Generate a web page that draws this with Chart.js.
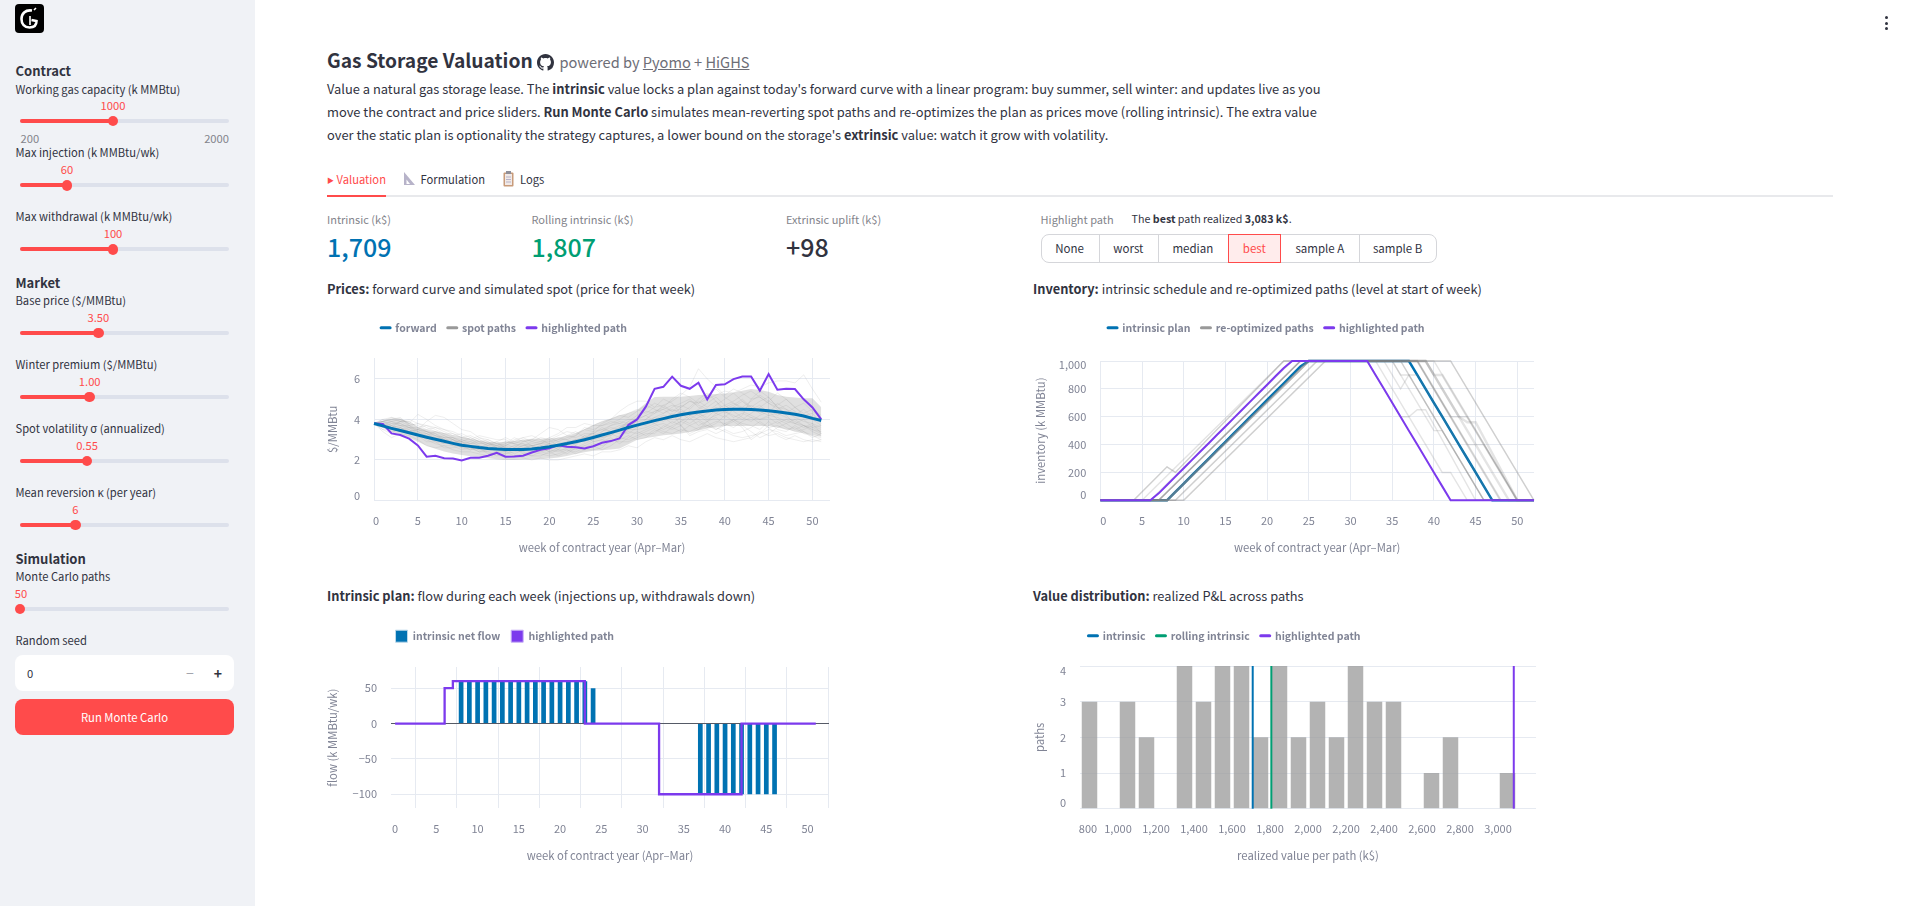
<!DOCTYPE html>
<html><head><meta charset="utf-8">
<script src="https://cdn.jsdelivr.net/npm/chart.js@4/dist/chart.umd.js"></script>
<style>
html,body{margin:0;padding:0;background:#fff;width:1911px;height:906px;overflow:hidden;font-family:"Noto Sans CJK SC","Noto Sans",sans-serif;color:#31333f;}
#side{position:absolute;left:0;top:0;width:255px;height:906px;background:#f0f2f6;}
.t{position:absolute;white-space:nowrap;line-height:20px;font-size:11.2px;}
.c{transform:translateX(-50%);}
.r{transform:translateX(-100%);}
.h{font-size:13px;font-weight:700;color:#31333f;}
.m{color:#83848b;}
.v{color:#ff4b4b;}
b{font-weight:700;}
canvas{position:absolute;}
.abs{position:absolute;}
</style></head><body>
<div id="side"></div>
<div id="main"></div>
<script>
// ---------- chart data ----------
const weeks = [0,1,2,3,4,5,6,7,8,9,10,11,12,13,14,15,16,17,18,19,20,21,22,23,24,25,26,27,28,29,30,31,32,33,34,35,36,37,38,39,40,41,42,43,44,45,46,47,48,49,50,51];
const weeksInv = weeks.concat([52]);
const forwardCurve = [3.80,3.68,3.56,3.45,3.34,3.23,3.12,3.02,2.92,2.82,2.73,2.67,2.61,2.57,2.54,2.52,2.52,2.52,2.54,2.59,2.65,2.73,2.81,2.90,3.00,3.11,3.23,3.35,3.47,3.60,3.72,3.83,3.94,4.04,4.14,4.23,4.30,4.37,4.42,4.46,4.49,4.50,4.50,4.49,4.46,4.43,4.38,4.32,4.25,4.17,4.05,3.95];
const spotHighlight = [3.80,3.77,3.31,3.23,3.05,2.72,2.16,2.21,2.09,2.07,1.98,2.11,2.11,2.21,2.35,2.16,2.17,2.21,2.37,2.50,2.58,2.73,2.65,2.63,2.57,2.68,2.85,2.93,3.06,3.72,4.00,4.63,5.51,5.61,6.11,5.66,5.51,5.81,4.99,5.70,5.73,5.99,6.12,6.12,5.42,6.24,5.47,5.51,5.50,4.99,4.59,4.00];
const bandUpper = [3.80,3.95,4.05,4.05,3.85,3.60,3.50,3.42,3.32,3.22,3.15,3.05,2.95,2.90,2.86,2.88,2.95,3.00,3.05,3.05,3.06,3.10,3.20,3.32,3.50,3.72,3.90,4.05,4.20,4.32,4.46,4.80,5.10,5.12,5.12,5.12,5.15,5.20,5.22,5.25,5.28,5.32,5.42,5.50,5.45,5.37,5.20,5.12,5.08,5.05,5.04,4.60];
const bandLower = [3.80,3.62,3.38,3.25,3.10,2.90,2.70,2.55,2.42,2.32,2.24,2.18,2.12,2.08,2.03,2.00,2.00,2.02,2.03,2.05,2.07,2.12,2.20,2.30,2.38,2.45,2.48,2.52,2.57,2.78,3.00,3.08,3.15,3.22,3.26,3.30,3.38,3.45,3.55,3.62,3.67,3.68,3.68,3.68,3.68,3.67,3.60,3.52,3.42,3.32,3.23,3.15];
const spot01 = [3.8,3.7,3.9,3.8,3.6,3.4,3.3,3.2,3.0,2.9,2.9,2.7,2.7,2.6,2.7,2.5,2.7,2.8,2.7,2.8,2.8,2.7,2.9,3.0,3.1,3.2,3.4,3.7,3.9,3.8,4.1,4.4,4.3,4.7,4.9,5.2,5.6,6.5,6.0,5.6,5.2,5.5,5.3,5.0,5.1,4.8,4.6,4.5,4.3,4.2,4.1,3.9];
const spot02 = [3.8,3.9,4.0,3.9,3.9,3.6,3.4,3.3,3.1,3.1,3.0,2.8,2.9,2.7,2.8,2.9,2.8,2.7,2.8,2.9,2.9,3.0,3.2,3.1,3.3,3.3,3.5,3.7,3.8,4.0,4.0,4.2,4.4,4.5,4.7,4.6,4.9,4.8,5.0,5.2,5.4,5.3,5.5,5.7,5.6,5.8,5.9,5.9,5.8,6.2,5.5,4.85];
const spot03 = [3.8,4.0,3.9,4.0,3.8,4.25,4.0,3.7,3.5,3.3,3.1,3.0,2.8,2.8,2.7,2.9,2.8,2.6,2.7,2.6,2.8,3.0,3.0,3.2,3.5,3.7,3.9,4.0,4.4,4.7,4.9,4.9,4.6,4.7,4.4,4.5,4.2,4.3,4.0,4.2,4.4,4.1,4.3,4.1,4.0,4.2,4.1,3.9,3.8,3.7,3.6,3.4];
const spot04 = [3.8,3.6,3.8,3.7,3.6,3.5,3.9,4.2,4.1,3.8,3.5,3.4,3.1,2.9,2.7,2.6,2.5,2.6,2.7,2.8,3.1,3.3,3.6,3.6,3.8,3.7,3.7,3.9,3.8,3.7,3.9,4.0,4.3,4.5,4.2,4.6,4.9,4.7,4.5,4.3,4.6,4.8,4.5,4.7,4.4,4.2,4.3,4.1,3.9,3.7,3.5,3.3];
const spot05 = [3.8,3.4,3.1,3.3,3.2,3.0,2.7,2.6,2.7,2.5,2.4,2.4,2.3,2.2,2.3,2.1,2.2,2.1,2.0,2.1,2.0,2.0,2.1,2.2,2.3,2.2,2.4,2.4,2.5,2.7,2.6,2.9,3.1,3.0,3.2,3.0,2.9,3.1,3.3,3.1,3.0,2.9,3.0,3.1,3.4,3.2,3.3,3.1,3.0,2.9,3.0,2.9];
const spot06 = [3.8,3.7,3.5,3.4,3.5,3.3,3.0,2.8,2.7,2.7,2.5,2.6,2.4,2.4,2.2,2.3,2.4,2.5,2.4,2.3,2.2,2.3,2.5,2.4,2.6,2.8,2.7,2.9,3.1,3.0,3.2,3.4,3.6,3.4,3.3,3.5,3.4,3.6,3.7,3.6,3.4,3.2,3.1,3.2,3.3,3.5,3.4,3.2,3.3,3.4,3.2,3.1];
const spot07 = [3.8,3.9,3.7,3.6,3.4,3.5,3.3,3.1,3.2,3.0,2.8,2.9,2.7,2.5,2.6,2.7,3.0,3.1,3.2,3.0,2.8,2.6,2.7,2.9,3.2,3.3,3.6,3.4,3.3,3.5,3.8,3.7,4.0,4.2,4.1,4.4,4.2,4.5,4.8,5.1,4.7,4.9,5.2,5.4,5.1,4.8,4.5,4.7,4.4,4.1,4.0,3.7];
const spot08 = [3.8,3.8,3.6,3.7,3.5,3.2,3.3,3.0,2.8,3.0,2.9,2.6,2.5,2.4,2.6,2.5,2.3,2.5,2.6,2.5,2.7,2.9,2.8,3.0,2.9,3.1,3.3,3.2,3.6,3.8,3.6,3.9,4.1,3.9,4.2,4.0,3.8,4.1,4.3,4.6,4.4,4.2,4.0,4.3,4.6,4.9,4.7,5.0,4.6,4.3,4.5,4.2];
const spot09 = [3.8,3.9,4.1,4.0,3.8,3.7,3.5,3.6,3.4,3.2,3.3,3.1,2.9,3.0,2.8,2.7,2.9,3.1,2.9,2.8,3.0,3.2,3.4,3.3,3.5,3.4,3.8,4.0,4.2,4.1,4.4,4.7,4.5,4.3,4.6,4.8,5.0,4.6,4.4,4.7,5.0,5.3,4.9,4.6,4.3,4.5,4.2,4.4,4.1,3.9,3.8,3.6];
const spot10 = [3.8,3.5,3.6,3.4,3.3,3.4,3.1,2.9,2.8,2.9,2.6,2.5,2.7,2.6,2.4,2.3,2.5,2.4,2.2,2.4,2.5,2.4,2.6,2.5,2.7,2.9,3.0,2.9,3.2,3.4,3.3,3.5,3.7,3.8,3.6,3.9,3.7,3.5,3.7,3.9,3.8,3.6,3.9,4.1,3.8,3.6,3.7,3.5,3.6,3.3,3.2,3.0];
const spot11 = [3.8,4.0,4.1,3.9,4.0,3.8,3.6,3.4,3.3,3.1,2.9,2.8,3.0,2.8,2.6,2.8,2.6,2.9,3.0,3.3,3.6,3.5,3.2,3.4,3.1,3.3,3.2,3.5,3.7,3.6,3.9,3.8,4.1,4.3,4.5,4.3,4.0,4.3,4.1,4.5,4.7,4.4,4.1,3.9,4.2,4.4,4.0,3.8,4.0,3.7,3.5,3.4];
const spot12 = [3.8,3.6,3.4,3.5,3.4,3.1,3.2,3.1,2.9,2.7,2.8,2.6,2.4,2.5,2.5,2.7,2.5,2.4,2.6,2.7,2.6,2.8,2.7,2.6,2.8,3.0,3.1,3.3,3.4,3.3,3.6,3.9,3.8,3.5,3.7,3.9,4.2,4.0,3.7,3.5,3.8,4.0,3.7,3.4,3.1,3.3,3.6,3.8,3.5,3.7,3.4,3.2];
const spot13 = [3.8,3.8,3.9,3.7,3.7,3.5,3.4,3.2,3.1,3.1,2.9,3.1,2.9,2.7,2.9,3.1,2.9,2.8,2.5,2.6,2.4,2.6,2.8,3.0,2.9,3.2,3.1,3.2,3.5,3.9,4.2,4.5,4.8,4.6,5.0,5.3,5.1,4.8,5.2,5.5,5.1,4.8,4.6,4.9,5.2,4.9,5.3,5.0,4.6,4.8,4.4,4.1];
const spot14 = [3.8,3.7,3.6,3.9,3.7,3.4,3.2,3.4,3.2,3.0,2.7,2.8,2.8,2.9,2.6,2.4,2.6,2.7,2.7,2.4,2.3,2.5,2.3,2.6,2.7,2.6,2.9,3.1,2.8,3.1,3.4,3.2,3.5,3.3,3.6,3.4,3.7,3.9,3.6,3.8,4.2,3.9,3.6,3.0,3.3,3.7,3.9,3.6,3.4,3.5,3.7,3.5];
const spot15 = [3.8,3.9,3.8,3.8,3.6,3.6,3.4,3.3,3.0,2.8,3.0,2.9,3.1,3.0,2.8,2.6,2.5,2.7,2.9,3.1,3.0,2.7,2.6,2.8,3.0,3.4,3.5,3.4,3.6,3.9,3.7,4.0,4.4,4.6,4.4,4.7,4.5,4.9,4.6,4.9,4.5,4.7,5.0,4.6,4.9,5.1,4.6,4.3,4.6,4.2,4.3,3.8];
const spot16 = [3.8,3.6,3.7,3.5,3.6,3.3,3.1,3.0,3.1,2.8,2.6,2.7,2.5,2.7,2.5,2.4,2.2,2.3,2.2,2.2,2.4,2.2,2.4,2.7,2.5,2.5,2.6,3.0,2.9,2.9,3.1,3.3,3.3,3.7,3.5,3.7,3.3,3.5,3.9,3.5,3.7,4.0,3.8,3.7,3.5,3.9,3.5,3.4,3.7,3.4,3.1,3.3];
const spot17 = [3.8,3.9,4.0,4.1,3.7,3.8,3.7,3.5,3.3,3.3,3.1,3.2,3.0,2.8,2.7,2.8,3.1,2.9,3.0,2.9,3.1,2.9,3.1,3.2,3.6,3.5,3.7,3.8,4.0,4.3,4.5,4.3,4.6,5.0,4.8,4.3,4.6,5.0,5.3,4.9,4.3,4.6,4.9,4.5,4.7,4.3,4.8,4.5,4.2,4.5,4.1,4.0];
const spot18 = [3.8,3.5,3.3,3.6,3.3,3.2,2.9,2.9,2.6,2.6,2.7,2.5,2.6,2.3,2.4,2.4,2.6,2.3,2.4,2.6,2.4,2.5,2.5,2.3,2.5,2.7,2.5,2.7,3.0,3.2,3.0,3.1,3.4,3.6,3.9,3.7,3.2,3.4,3.5,3.3,3.5,3.3,3.4,3.6,3.9,3.6,3.2,3.0,3.2,3.0,2.9,3.0];
const spot19 = [3.8,3.8,3.7,3.9,3.9,3.6,3.7,3.6,3.5,3.4,3.2,3.0,3.2,3.1,3.0,3.0,2.8,3.0,2.7,2.8,2.9,3.1,3.0,2.8,3.1,3.0,3.4,3.6,3.5,3.8,4.0,4.2,3.9,4.1,3.8,4.1,4.4,4.2,3.9,4.1,3.7,3.9,4.2,5.0,5.4,5.1,4.6,4.2,3.8,4.0,3.6,3.7];
const spot20 = [3.8,3.7,3.5,3.6,3.4,3.5,3.4,3.2,3.0,3.0,2.8,2.7,2.6,2.8,2.9,2.6,2.7,2.5,2.5,2.7,2.8,2.5,2.9,2.7,3.2,2.9,3.0,3.3,3.1,3.5,3.5,3.6,3.8,4.0,4.3,3.7,4.1,3.7,3.9,4.3,4.1,4.5,4.4,4.2,4.0,4.1,3.8,4.0,3.8,3.6,3.8,3.3];
const spotPaths = [spot01,spot02,spot03,spot04,spot05,spot06,spot07,spot08,spot09,spot10,spot11,spot12,spot13,spot14,spot15,spot16,spot17,spot18,spot19,spot20];

const invIntrinsic = [0,0,0,0,0,0,0,0,0,60,120,180,240,300,360,420,480,540,600,660,720,780,840,900,960,1000,1000,1000,1000,1000,1000,1000,1000,1000,1000,1000,1000,1000,900,800,700,600,500,400,300,200,100,0,0,0,0,0,0];
const invHighlight = [0,0,0,0,0,0,0,50,110,170,230,290,350,410,470,530,590,650,710,770,830,890,950,1000,1000,1000,1000,1000,1000,1000,1000,1000,1000,900,800,700,600,500,400,300,200,100,0,0,0,0,0,0,0,0,0,0,0];
// re-optimized inventory paths, as [week, level] vertices
const invPaths = [
 [[0,0],[4,0],[8,240],[9,200],[22,1000],[42,1000],[52,0]],
 [[0,0],[4,0],[8,240],[9,200],[22,1000],[42,1000],[52,0]],
 [[0,0],[5,0],[22,1000],[38,1000],[48,0],[52,0]],
 [[0,0],[7,0],[24,1000],[36,1000],[46,0],[52,0]],
 [[0,0],[7,0],[24,1000],[36,1000],[46,0],[52,0]],
 [[0,0],[7,0],[24,1000],[40,1000],[50,0],[52,0]],
 [[0,0],[8,0],[25,1000],[38,1000],[48,0],[52,0]],
 [[0,0],[8,0],[25,1000],[39,1000],[49,0],[52,0]],
 [[0,0],[9,0],[26,1000],[38,1000],[42,600],[44,600],[50,0],[52,0]],
 [[0,0],[10,0],[27,1000],[35,1000],[36,900],[37,900],[38,800],[46,0],[52,0]],
 [[0,0],[10,0],[27,1000],[34,1000],[36,800],[37,900],[38,900],[47,0],[52,0]],
 [[0,0],[7,0],[24,1000],[32,1000],[36,600],[37,600],[38,650],[39,650],[45,0],[52,0]],
 [[0,0],[6,0],[23,1000],[33,1000],[41,200],[42,200],[44,0],[52,0]],
 [[0,0],[8,0],[25,1000],[39,1000],[43,600],[44,560],[45,560],[50,0],[52,0]],
 [[0,0],[9,0],[26,1000],[38,1000],[44,400],[46,400],[50,0],[52,0]],
 [[0,0],[7,0],[24,1000],[35,1000],[40,500],[41,500],[46,0],[52,0]],
 [[0,0],[8,0],[25,1000],[39,1000],[40,900],[41,900],[42,800],[50,0],[52,0]]
];
const flowIntrinsic = [0,0,0,0,0,0,0,0,60,60,60,60,60,60,60,60,60,60,60,60,60,60,60,60,50,0,0,0,0,0,0,0,0,0,0,0,0,-100,-100,-100,-100,-100,-100,-100,-100,-100,-100,0,0,0,0,0];
const flowHighlight = [0,0,0,0,0,0,50,60,60,60,60,60,60,60,60,60,60,60,60,60,60,60,60,0,0,0,0,0,0,0,0,0,-100,-100,-100,-100,-100,-100,-100,-100,-100,-100,0,0,0,0,0,0,0,0,0,0];
const binCenters = [850,950,1050,1150,1250,1350,1450,1550,1650,1750,1850,1950,2050,2150,2250,2350,2450,2550,2650,2750,2850,2950,3050];
const binCounts  = [3,0,3,2,0,4,3,4,4,2,4,2,3,2,4,3,3,0,1,2,0,0,1];
const valIntrinsic = 1709, valRolling = 1807, valHighlight = 3083;
const weekTicks = [0,5,10,15,20,25,30,35,40,45,50];
const valueTicks = [800,1000,1200,1400,1600,1800,2000,2200,2400,2600,2800,3000];

// ---------- page furniture ----------
const BLUE='#0072b2',GREEN='#009e73',PURPLE='#7c3aed',GRAY='#999999',AX='#808495',GRID='#e6eaf1';
const side=document.getElementById('side'), main=document.getElementById('main');
function T(p,x,cy,html,cls,st){const d=document.createElement('div');d.className='t '+(cls||'');d.style.left=x+'px';d.style.top=(cy-10)+'px';d.innerHTML=html;if(st)d.style.cssText+=';'+st;p.appendChild(d);return d;}
function B(p,x,y,w,h,st){const d=document.createElement('div');d.className='abs';d.style.cssText=`left:${x}px;top:${y}px;width:${w}px;height:${h}px;`+(st||'');p.appendChild(d);return d;}

side.insertAdjacentHTML('beforeend','<svg class="abs" style="left:15px;top:4px" width="29" height="29" viewBox="0 0 29 29"><rect width="29" height="29" rx="4" fill="#000"/><path d="M17 6.5C10 5.5 6.5 10 6.5 15s3 8.5 8 8.5c5 0 7-3 7-6.5l-5-1" fill="none" stroke="#fff" stroke-width="2.6"/><path d="M19 6l2-2M15 12v9" fill="none" stroke="#fff" stroke-width="1.6"/></svg>');
const heads=[['Contract',70.5],['Market',282.5],['Simulation',559]];
heads.forEach(h=>T(side,15.5,h[1],h[0],'h'));
const sliders=[
 ['Working gas capacity (k MMBtu)',88.5,'1000',113,105,121],
 ['Max injection (k MMBtu/wk)',152,'60',67,169,185.3],
 ['Max withdrawal (k MMBtu/wk)',216,'100',113,233,249.3],
 ['Base price ($/MMBtu)',300,'3.50',98.3,317,333],
 ['Winter premium ($/MMBtu)',364,'1.00',89.7,381,397],
 ['Spot volatility σ (annualized)',428,'0.55',87,445,461],
 ['Mean reversion κ (per year)',492,'6',75.3,509,525],
 ['Monte Carlo paths',576,'50',20,593,609]];
sliders.forEach(s=>{
 T(side,15.5,s[1],s[0]);
 T(side,s[3]+(s[2]==='50'?1:0),s[4],s[2],'v c');
 B(side,20,s[5]-2,209,4,'background:#dde1eb;border-radius:2px');
 B(side,20,s[5]-2,s[3]-20,4,'background:#ff4b4b;border-radius:2px');
 B(side,s[3]-5.3,s[5]-5.3,10.6,10.6,'background:#ff4b4b;border-radius:50%');
});
T(side,20.5,138,'200','m');
T(side,229,138,'2000','m r');
T(side,15.5,640,'Random seed');
B(side,15,655,219,36,'background:#fff;border-radius:8px');
T(side,27,672.5,'0');
T(side,190,672.5,'−','c','color:#a3a5ad;font-size:14px');
T(side,218,672.5,'+','c','font-weight:700;font-size:14px');
B(side,15,699,219,36,'background:#ff4b4b;border-radius:8px');
T(side,124.5,716.5,'Run Monte Carlo','c','color:#fff;font-size:11.3px');

T(main,327,60,'Gas Storage Valuation','', 'font-size:19.2px;font-weight:700;line-height:30px;top:45px');
main.insertAdjacentHTML('beforeend','<svg class="abs" style="left:536.5px;top:53.5px" width="17" height="17" viewBox="0 0 16 16"><path fill="#31333f" d="M8 0C3.58 0 0 3.58 0 8c0 3.54 2.29 6.53 5.47 7.59.4.07.55-.17.55-.38 0-.19-.01-.82-.01-1.49-2.01.37-2.53-.49-2.69-.94-.09-.23-.48-.94-.82-1.13-.28-.15-.68-.52-.01-.53.63-.01 1.08.58 1.23.82.72 1.21 1.87.87 2.33.66.07-.52.28-.87.51-1.07-1.78-.2-3.64-.89-3.64-3.95 0-.87.31-1.59.82-2.15-.08-.2-.36-1.02.08-2.12 0 0 .67-.21 2.2.82.64-.18 1.32-.27 2-.27.68 0 1.36.09 2 .27 1.53-1.04 2.2-.82 2.2-.82.44 1.1.16 1.92.08 2.12.51.56.82 1.27.82 2.15 0 3.07-1.87 3.75-3.65 3.95.29.25.54.73.54 1.48 0 1.07-.01 1.93-.01 2.2 0 .21.15.46.55.38A8.013 8.013 0 0016 8c0-4.42-3.58-8-8-8z"/></svg>');
T(main,559.5,62,'powered by <u>Pyomo</u> + <u>HiGHS</u>','', 'font-size:14.6px;color:#6d6e77');
[['Value a natural gas storage lease. The <b>intrinsic</b> value locks a plan against today\'s forward curve with a linear program: buy summer, sell winter: and updates live as you',88.5],
 ['move the contract and price sliders. <b>Run Monte Carlo</b> simulates mean-reverting spot paths and re-optimizes the plan as prices move (rolling intrinsic). The extra value',111.5],
 ['over the static plan is optionality the strategy captures, a lower bound on the storage\'s <b>extrinsic</b> value: watch it grow with volatility.',134.5]
].forEach(l=>T(main,327,l[1],l[0],'','font-size:12.88px'));

T(main,327,178.5,'<span style="font-size:7px;vertical-align:1px">▶</span> Valuation','v','font-size:11.2px');
main.insertAdjacentHTML('beforeend','<svg class="abs" style="left:403px;top:172px" width="13" height="14" viewBox="0 0 13 14"><path d="M1 0L12 13H1z" fill="#b7b3c9"/><path d="M3.5 7.5L7 12H3.5z" fill="#fff"/></svg><svg class="abs" style="left:503px;top:171px" width="11" height="16" viewBox="0 0 11 16"><rect x="0.5" y="1.5" width="10" height="14" rx="1" fill="#c89b7a"/><rect x="2" y="3" width="7" height="11" fill="#f1e9e6"/><rect x="3" y="0" width="5" height="3" fill="#8f8f99"/><path d="M3 6h5M3 8.5h5M3 11h5" stroke="#b7b3c9"/></svg>');
T(main,420.5,178.5,'Formulation','','font-size:11.2px');
T(main,520,178.5,'Logs','','font-size:11.2px');
B(main,327,195,1506,2,'background:#e8e9ec');
B(main,327,195,59,2,'background:#ff4b4b');

[['Intrinsic (k$)',327,'1,709',BLUE],['Rolling intrinsic (k$)',531.5,'1,807',GREEN],['Extrinsic uplift (k$)',786,'+98','#31333f']].forEach(m=>{
 T(main,m[1],219,m[0],'m','font-size:11px');
 T(main,m[1],245.5,m[2],'','font-weight:500;font-size:25px;color:'+m[3]);
});
T(main,1040.6,219,'Highlight path','m','font-size:11px');
T(main,1131.6,219,'The <b>best</b> path realized <b>3,083 k$</b>.','','font-size:10.7px');
B(main,1040.6,234,396,28.7,'box-sizing:border-box;border:1px solid #d5d6da;border-radius:8px');
[['None',1040.6,1098.7],['worst',1098.7,1158],['median',1158,1227.6],['best',1227.6,1280.9],['sample A',1280.9,1358.7],['sample B',1358.7,1436.6]].forEach((s,i)=>{
 if(i===3)B(main,s[1],234,s[2]-s[1],28.7,'box-sizing:border-box;border:1px solid #ff4b4b;background:#ffecec');
 else if(i>0&&i!==4)B(main,s[1],234,1,28.7,'background:#d5d6da');
 T(main,(s[1]+s[2])/2,248,s[0],'c','font-size:11.5px;'+(i===3?'color:#ff4b4b':''));
});
T(main,327,289,'<b>Prices:</b> forward curve and simulated spot (price for that week)','','font-size:12.8px');
T(main,1033,289,'<b>Inventory:</b> intrinsic schedule and re-optimized paths (level at start of week)','','font-size:12.8px');
T(main,327,596,'<b>Intrinsic plan:</b> flow during each week (injections up, withdrawals down)','','font-size:12.8px');
T(main,1033,596,'<b>Value distribution:</b> realized P&amp;L across paths','','font-size:12.8px');
[17.5,23,28.5].forEach(y=>B(main,1884.5,y-1.5,3,3,'background:#31333f;border-radius:50%'));

// ---------- charts ----------
const FONT='"Noto Sans CJK SC"';
Chart.defaults.font.family=FONT;
Chart.defaults.animation=false;
Chart.defaults.responsive=false;
const placePlugin={id:'place',
 beforeLayout(ch){const l=ch.legend;if(l&&!l._wrapped){const f=l.fit.bind(l);l.fit=function(){f();this.height=0;};l._wrapped=true;}},
 afterLayout(ch){const o=ch.options.plugins.place,l=ch.legend,pad=l.options.labels.padding;
  l.left=o.cx-300;l.right=o.cx+300;l.top=o.cy-pad-5.5;l.bottom=l.top+40;},
 beforeDraw(ch){const o=ch.options.plugins.place;['x','y'].forEach(a=>{const s=ch.scales[a],n=o[a]||{};s.getLabelItems().forEach(it=>{const k=n[it.label];if(k&&!it._n){it.options.translation=[it.options.translation[0]+k[0],it.options.translation[1]+k[1]];it._n=1;}});});}
};
function build(rect,cfg){
 const Top=50,R=10,TH=7;
 const L=rect.l-rect.ytitleX+TH, H=rect.titleY-rect.b+TH;
 const c=document.createElement('canvas');
 c.width=Math.round(rect.r-rect.l+L+R);c.height=Math.round(rect.b-rect.t+Top+H+2);
 const cl=rect.l-L, ct=rect.t-Top;
 c.style.left=cl+'px';c.style.top=ct+'px';
 document.body.appendChild(c);
 const gx=cfg.gridX===false?{display:false,drawTicks:false}:{color:GRID,lineWidth:1,drawTicks:false};
 const gy=Object.assign({color:GRID,lineWidth:1,drawTicks:false},cfg.gridY||{});
 return new Chart(c,{data:{datasets:cfg.datasets},plugins:[placePlugin],options:{
  layout:{autoPadding:false,padding:{top:Top,right:R,left:0,bottom:c.height-(rect.b-rect.t+Top+H)}},
  plugins:{tooltip:{enabled:false},
   place:{cx:rect.lx-cl,cy:rect.ly-ct,x:cfg.nudgeX,y:cfg.nudgeY},
   legend:{position:'top',align:'center',labels:Object.assign({font:{size:10.5,weight:'bold'},color:AX,padding:11,generateLabels:()=>cfg.legend},cfg.legendOpts||{usePointStyle:true,pointStyleWidth:9})}},
  scales:{
   x:{type:'linear',offset:false,min:cfg.x[0],max:cfg.x[1],grid:gx,border:{display:false},
      afterBuildTicks:s=>{s.ticks=cfg.xTicks.map(v=>({value:v}));},
      afterFit:s=>{s.height=H;},
      ticks:{autoSkip:false,maxRotation:0,padding:rect.xpad,color:AX,font:{size:11},callback:v=>Number(v).toLocaleString('en-US')},
      title:{display:true,text:cfg.xTitle,color:AX,font:{size:11.3},padding:0}},
   y:{type:'linear',min:cfg.y[0],max:cfg.y[1],grid:gy,border:{display:false},
      afterBuildTicks:s=>{s.ticks=cfg.yTicks.map(v=>({value:v}));},
      afterFit:s=>{s.width=L;},
      ticks:{autoSkip:false,padding:14,color:AX,font:{size:11},callback:v=>Number(v).toLocaleString('en-US').replace('-','−')},
      title:{display:true,text:cfg.yTitle,color:AX,font:{size:11.3},padding:0}}
  }}});
}
const pts=(xs,ys)=>ys.map((y,i)=>({x:xs[i],y}));
const nonZero=a=>a.filter(p=>p.y!==0);
const lineItem=(text,color)=>({text,fillStyle:color,strokeStyle:color,lineWidth:3,lineCap:'round',pointStyle:'line',fontColor:AX});
const line=(data,color,width,order,extra)=>Object.assign({type:'line',data,borderColor:color,borderWidth:width,pointRadius:0,tension:0,clip:false,order},extra||{});

// Prices
build({l:374,r:830,t:358,b:500.5,lx:504,ly:328,titleY:547,ytitleX:333,xpad:14},{
 x:[0,52],y:[0,7.03],xTicks:weekTicks,yTicks:[0,2,4,6],nudgeX:{'0':[2,0]},nudgeY:{'0':[0,-5]},
 xTitle:'week of contract year (Apr–Mar)',yTitle:'$/MMBtu',
 legend:[lineItem('forward',BLUE),lineItem('spot paths',GRAY),lineItem('highlighted path',PURPLE)],
 datasets:[
  line(pts(weeks,bandUpper),'rgba(0,0,0,0)',0,50,{fill:'+1',backgroundColor:'rgba(153,153,153,0.3)'}),
  line(pts(weeks,bandLower),'rgba(0,0,0,0)',0,50),
  ...spotPaths.map(p=>line(pts(weeks,p),'rgba(150,150,150,0.16)',1,40)),
  line(pts(weeks,spotHighlight),PURPLE,2,20),
  line(pts(weeks,forwardCurve),BLUE,3,10)
 ]});
// Inventory
build({l:1100,r:1533.5,t:361,b:500.3,lx:1266,ly:328,titleY:547,ytitleX:1040.7,xpad:14},{
 x:[0,52],y:[0,1000],xTicks:weekTicks,yTicks:[0,200,400,600,800,1000],nudgeX:{'0':[3,0]},nudgeY:{'0':[0,-5],'1,000':[0,4]},
 xTitle:'week of contract year (Apr–Mar)',yTitle:'inventory (k MMBtu)',
 legend:[lineItem('intrinsic plan',BLUE),lineItem('re-optimized paths',GRAY),lineItem('highlighted path',PURPLE)],
 datasets:[
  line(pts(weeksInv,invIntrinsic),BLUE,2.5,30),
  ...invPaths.map(p=>line(p.map(v=>({x:v[0],y:v[1]})),'rgba(130,130,130,0.22)',p[1][0]===8?2.4:1.4,20)),
  line(pts(weeksInv,invHighlight),PURPLE,2,10)
 ]});
// Flow
build({l:390.7,r:828.7,t:667.3,b:808.7,lx:504.5,ly:636,titleY:855.3,ytitleX:332.7,xpad:14},{
 x:[-0.5,52.6],y:[-120,80],xTicks:weekTicks,yTicks:[-100,-50,0,50],
 gridY:{color:c=>c.tick&&c.tick.value===0?'#555a66':GRID},
 xTitle:'week of contract year (Apr–Mar)',yTitle:'flow (k MMBtu/wk)',
 legendOpts:{usePointStyle:false,boxWidth:12,boxHeight:12},
 legend:[{text:'intrinsic net flow',fillStyle:BLUE,strokeStyle:'#bcd9ea',lineWidth:1,fontColor:AX},{text:'highlighted path',fillStyle:PURPLE,strokeStyle:'#c9b1f6',lineWidth:1,fontColor:AX}],
 datasets:[
  {type:'bar',data:nonZero(pts(weeks,flowIntrinsic)),backgroundColor:BLUE,barThickness:4.7,inflateAmount:0,order:20},
  line(pts(weeks,flowHighlight),PURPLE,2.3,10,{stepped:'before'})
 ]});
// Distribution
build({l:1080,r:1536,t:666,b:808.7,lx:1224.5,ly:636,titleY:855.3,ytitleX:1040,xpad:14},{
 x:[800,3200],y:[0,4],xTicks:valueTicks,yTicks:[0,1,2,3,4],gridX:false,nudgeX:{'800':[8,0]},nudgeY:{'0':[0,-5.5],'4':[0,4.7]},
 xTitle:'realized value per path (k$)',yTitle:'paths',
 legend:[lineItem('intrinsic',BLUE),lineItem('rolling intrinsic',GREEN),lineItem('highlighted path',PURPLE)],
 datasets:[
  {type:'bar',data:nonZero(pts(binCenters,binCounts)),backgroundColor:'rgba(153,153,153,0.75)',barThickness:15.5,inflateAmount:0,order:20},
  line([{x:valIntrinsic,y:0},{x:valIntrinsic,y:4}],BLUE,2,10),
  line([{x:valRolling,y:0},{x:valRolling,y:4}],GREEN,2,10),
  line([{x:valHighlight,y:0},{x:valHighlight,y:4}],PURPLE,2,10)
 ]});
</script>
</body></html>
